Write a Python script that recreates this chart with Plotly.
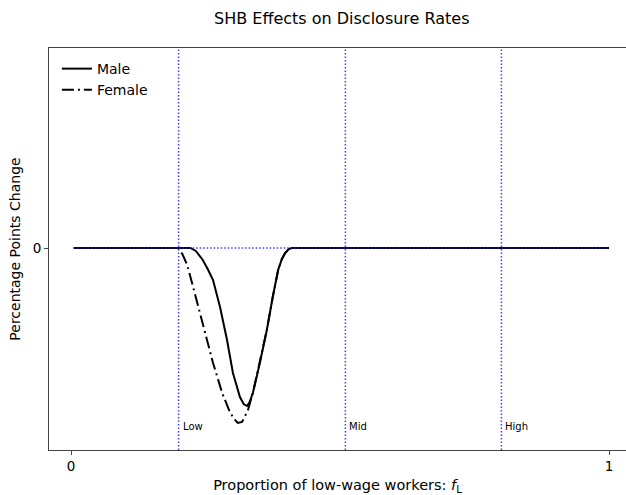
import plotly.graph_objects as go

# Data
male_x = [0.005, 0.1, 0.2, 0.222, 0.232, 0.245, 0.255, 0.264, 0.277, 0.290, 0.301,
          0.314, 0.321, 0.327, 0.332, 0.338, 0.351, 0.364, 0.375, 0.385, 0.392,
          0.398, 0.405, 0.411, 0.5, 0.7, 1.0]
male_y = [0, 0, 0, 0, -0.03, -0.12, -0.22, -0.32, -0.59, -0.92, -1.25,
          -1.49, -1.56, -1.58, -1.54, -1.45, -1.15, -0.82, -0.49, -0.22, -0.11,
          -0.05, -0.01, 0, 0, 0, 0]
female_x = [0.005, 0.1, 0.199, 0.207, 0.216, 0.227, 0.245, 0.264, 0.281, 0.296,
            0.305, 0.310, 0.318, 0.329, 0.338, 0.351, 0.364, 0.375, 0.385, 0.392,
            0.398, 0.405, 0.411, 0.5, 0.7, 1.0]
female_y = [0, 0, 0, -0.06, -0.17, -0.39, -0.75, -1.15, -1.45, -1.65,
            -1.72, -1.75, -1.74, -1.62, -1.45, -1.15, -0.82, -0.49, -0.22, -0.11,
            -0.05, -0.01, 0, 0, 0, 0]
region_x = [0.2, 0.51, 0.8]
region_labels = ["Low", "Mid", "High"]
label_y = -1.78

FONT = "DejaVu Sans"
DOT = dict(color="rgba(30,30,255,0.85)", width=1.5, dash="1.5px,2px")
fig = go.Figure()
fig.add_trace(go.Scatter(x=male_x, y=male_y, mode="lines", name="Male",
                         line=dict(color="black", width=2)))
fig.add_trace(go.Scatter(x=female_x, y=female_y, mode="lines", name="Female",
                         line=dict(color="black", width=2, dash="12px,4px,2px,4px")))

for xv, lab in zip(region_x, region_labels):
    fig.add_shape(type="line", xref="x", yref="paper", x0=xv, x1=xv, y0=0, y1=1, line=DOT)
    fig.add_annotation(x=xv, y=label_y, text=lab, showarrow=False, xanchor="left",
                       xshift=2, font=dict(size=10, family=FONT, color="black"))

fig.add_shape(type="line", xref="x", yref="y", x0=male_x[0], x1=male_x[-1], y0=0, y1=0,
              line=DOT)

fig.update_layout(
    width=626, height=495,
    margin=dict(l=49, r=0, t=48, b=45, autoexpand=False),
    plot_bgcolor="white", paper_bgcolor="white",
    font=dict(family=FONT, size=13, color="black"),
    title=dict(text="SHB Effects on Disclosure Rates", xref="container", x=0.546,
               xanchor="center", y=0.963, yanchor="middle",
               font=dict(size=16, family=FONT)),
    showlegend=True,
    legend=dict(x=0.0137, y=0.9875, xanchor="left", yanchor="top",
                bgcolor="rgba(255,255,255,0)", font=dict(size=14, family=FONT),
                itemwidth=30, tracegroupgap=0),
    xaxis=dict(range=[-0.0409, 1.0316], tickvals=[0, 1], ticktext=["0", "1"],
               showgrid=False, zeroline=False, showline=True, mirror=True,
               linecolor="#444", linewidth=1, ticks="outside", ticklen=4,
               tickcolor="#444", tickfont=dict(size=13.5), automargin=False,
               title=dict(text="Proportion of low-wage workers: <i>f</i><sub>L</sub>",
                          font=dict(size=14.5), standoff=6)),
    yaxis=dict(range=[-2.02, 2.0], tickvals=[0], ticktext=["0"],
               showgrid=False, zeroline=False, showline=True, mirror=False,
               linecolor="#444", linewidth=1, ticks="outside", ticklen=4,
               tickcolor="#444", tickfont=dict(size=13.5), automargin=False,
               title=dict(text="Percentage Points Change", font=dict(size=14), standoff=8)),
)

fig.write_html("out.html", config={"displayModeBar": False},
               post_script="document.body.style.margin='0px';")
